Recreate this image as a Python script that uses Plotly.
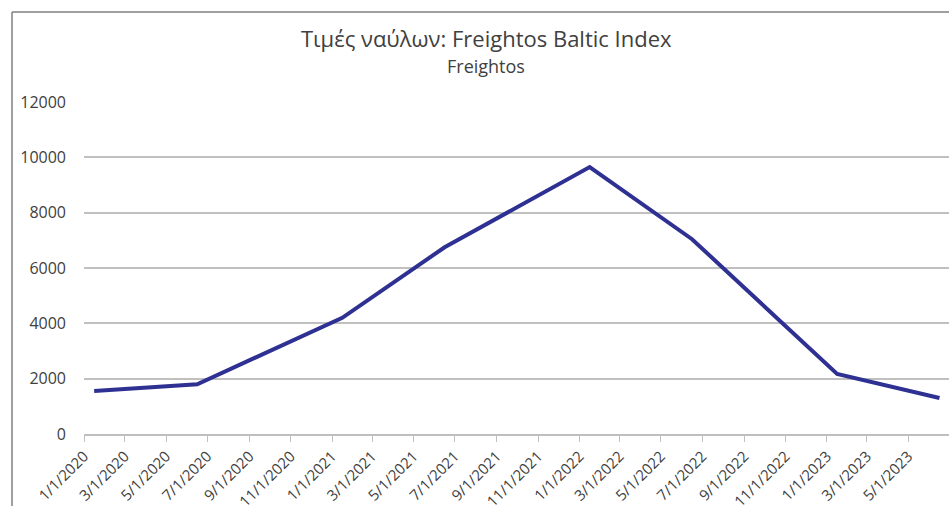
import pandas as pd
import plotly.graph_objects as go

# Freightos Baltic Index, monthly points
months = ["2020-01", "2020-06", "2021-01", "2021-06",
          "2022-01", "2022-06", "2023-01", "2023-06"]
fbx = [1550, 1800, 4200, 6750, 9650, 7040, 2170, 1300]

title = "Τιμές ναύλων: Freightos Baltic Index"
subtitle = "Freightos"

# excel date axis puts each month's point in the middle of its slot
x = pd.to_datetime(months) + pd.Timedelta(days=15)

FONT = "'Open Sans', Lato, sans-serif"
TXT = "#404040"

W, H = 949, 506
PL, PT, PR, PB = 84, 102, 949, 434   # plot area in pixels


def px(xs):
    return (xs - PL) / (PR - PL)


def py(ys):
    return (PB - ys) / (PB - PT)


fig = go.Figure()
fig.add_trace(go.Scatter(
    x=x, y=fbx, mode="lines",
    line=dict(color="#2E3192", width=4),
    showlegend=False,
))

fig.update_layout(
    width=W, height=H,
    margin=dict(l=PL, r=W - PR, t=PT, b=H - PB, pad=0, autoexpand=False),
    paper_bgcolor="white", plot_bgcolor="white",
    font=dict(family=FONT, color=TXT),
    annotations=[
        dict(text=title, xref="paper", yref="paper", x=px(486), y=py(38),
             xanchor="center", yanchor="middle", showarrow=False,
             font=dict(size=22, color=TXT, family=FONT)),
        dict(text=subtitle, xref="paper", yref="paper", x=px(486), y=py(66),
             xanchor="center", yanchor="middle", showarrow=False,
             font=dict(size=18, color=TXT, family=FONT)),
    ],
    shapes=[
        # chart border, only top and left visible in the crop
        dict(type="line", xref="paper", yref="paper",
             x0=px(12), x1=1.2, y0=py(12), y1=py(12),
             line=dict(color="#7f7f7f", width=1.5)),
        dict(type="line", xref="paper", yref="paper",
             x0=px(12), x1=px(12), y0=py(12), y1=-0.5,
             line=dict(color="#7f7f7f", width=1.5)),
    ],
)

fig.update_xaxes(
    type="date", range=["2020-01-01", "2023-06-30"],
    tick0="2020-01-01", dtick="M2", tickformat="%-m/%-d/%Y",
    tickangle=-45, tickfont=dict(size=15, color=TXT),
    ticks="outside", ticklen=6, tickcolor="#bfbfbf",
    showline=True, linecolor="#bfbfbf", linewidth=1.5,
    showgrid=False, zeroline=False, automargin=False,
)
fig.update_yaxes(
    range=[0, 12000], dtick=2000, tickformat="d",
    tickfont=dict(size=16, color=TXT), ticklabelstandoff=17,
    showgrid=True, gridcolor="#c0c0c0", gridwidth=1.5,
    zeroline=False, showline=False, automargin=False,
)

# drop the default 8px body margin so the figure sits at the page corner
fig.write_html("out.html", config={"displayModeBar": False},
               post_script="document.body.style.margin='0';")
